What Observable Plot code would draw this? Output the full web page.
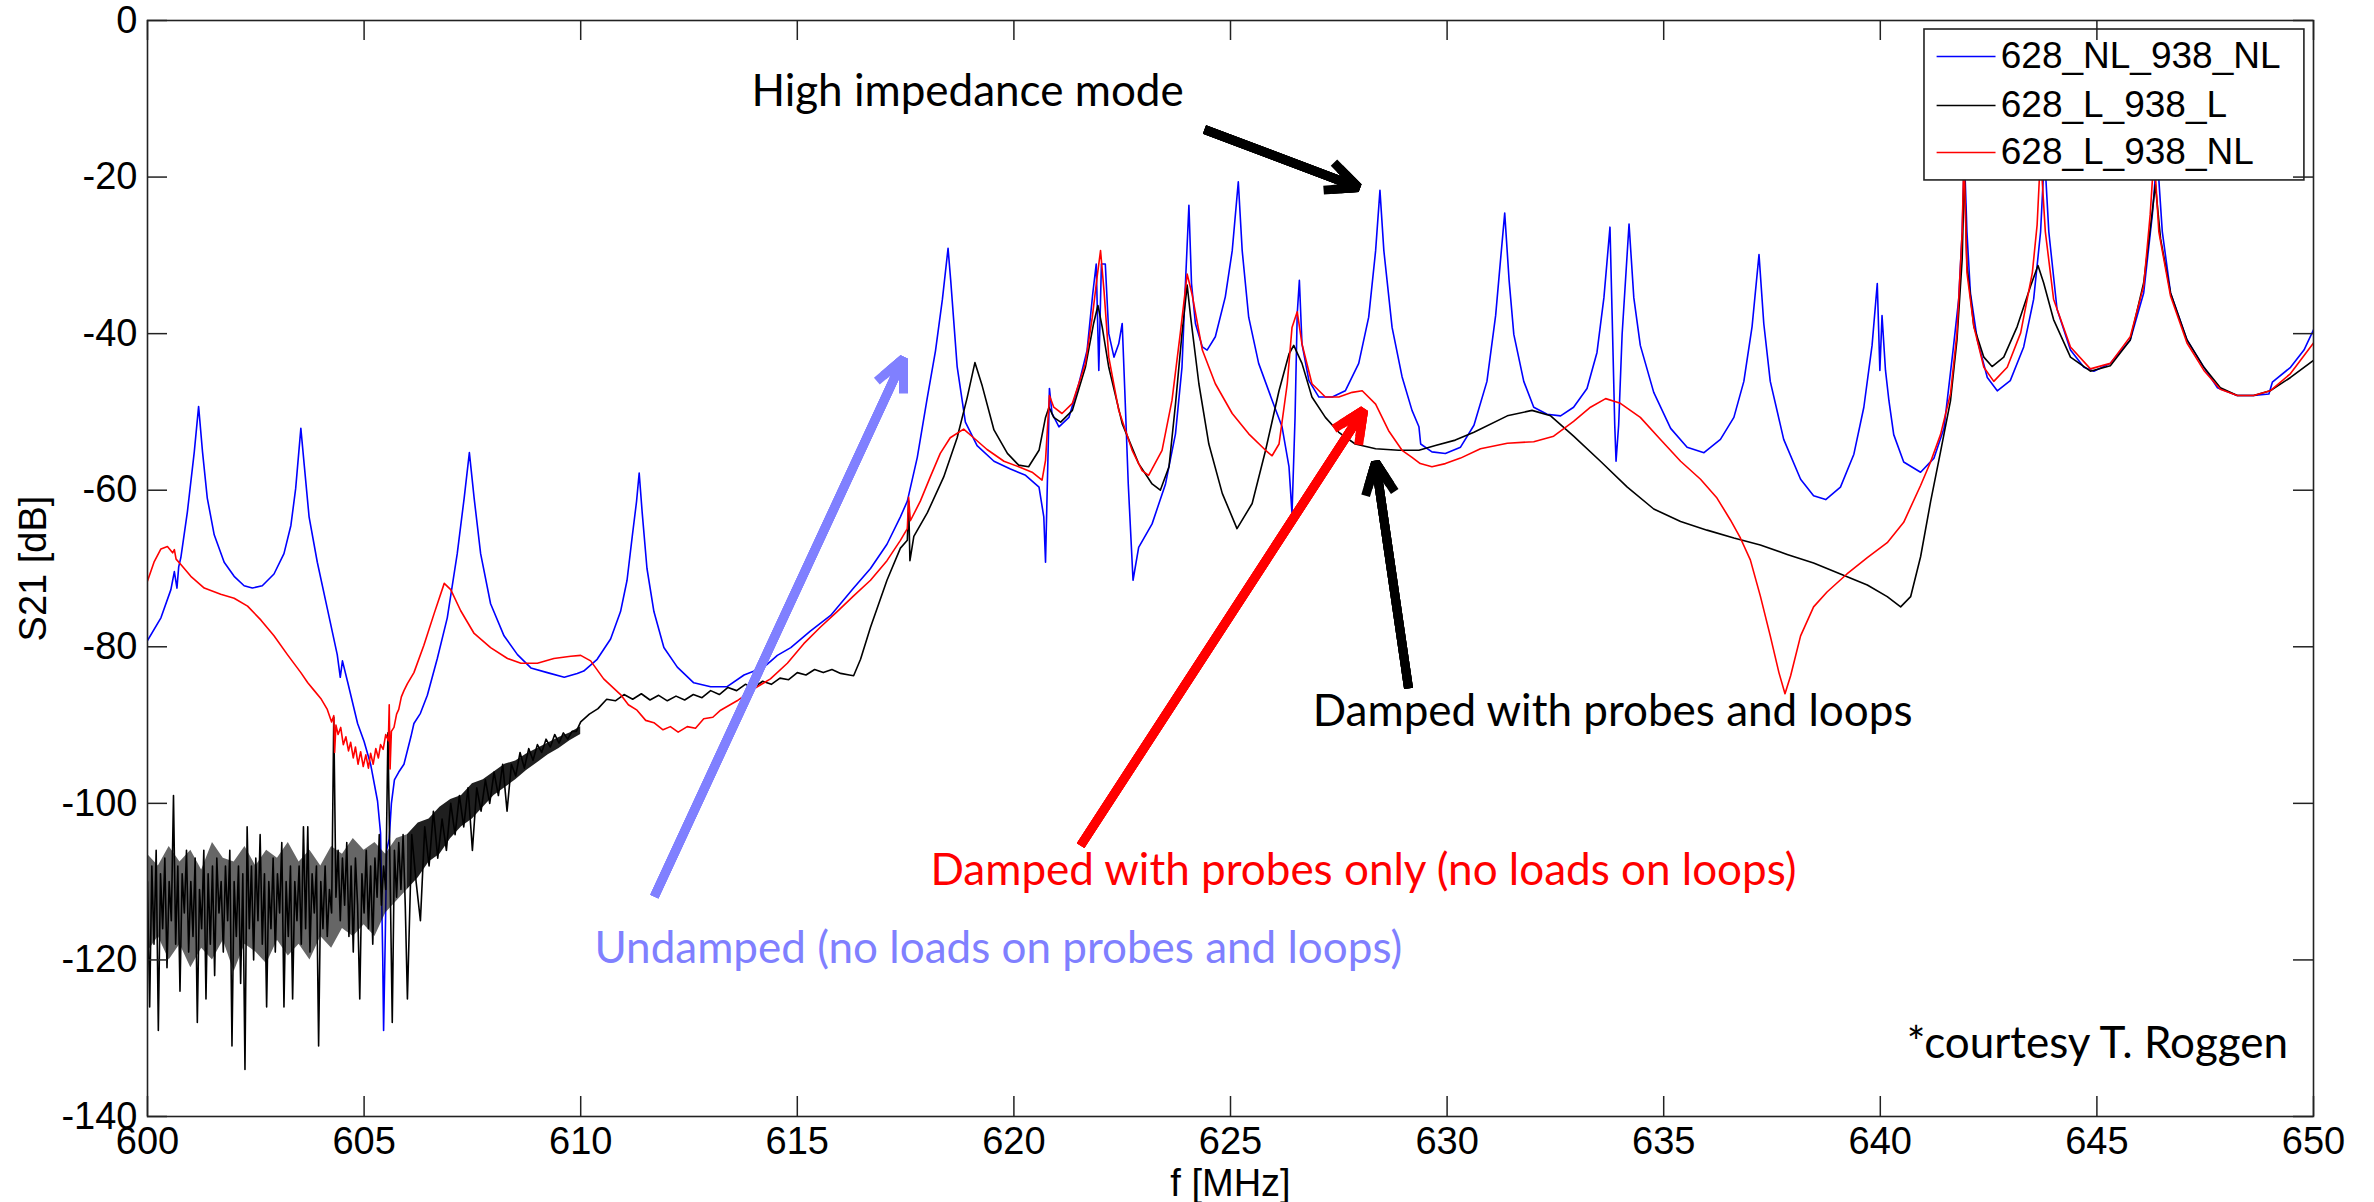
<!DOCTYPE html>
<html><head><meta charset="utf-8">
<script src="https://cdn.jsdelivr.net/npm/d3@7"></script>
<script src="https://cdn.jsdelivr.net/npm/@observablehq/plot@0.6"></script>
<style>html,body{margin:0;padding:0;background:#fff;overflow:hidden}</style>
</head><body><div id="chart"></div>
<script>
// ---- series names / tick labels ----
const seriesNames = ["628_NL_938_NL", "628_L_938_L", "628_L_938_NL"];
const xTicks = [600, 605, 610, 615, 620, 625, 630, 635, 640, 645, 650];
const yTicks = [0, -20, -40, -60, -80, -100, -120, -140];

// ---- 628_NL_938_NL (blue) ----
const blueF = [600.00,600.31,600.54,600.62,600.68,600.72,600.77,600.92,601.08,601.18,601.27,601.38,601.54,601.77,602.00,602.23,602.42,602.65,602.92,603.15,603.31,603.42,603.54,603.62,603.73,603.92,604.15,604.38,604.45,604.50,604.62,604.85,605.00,605.15,605.31,605.38,605.43,605.45,605.49,605.52,605.58,605.63,605.70,605.80,605.92,606.08,606.15,606.30,606.46,606.69,606.92,607.15,607.31,607.43,607.54,607.69,607.92,608.23,608.54,608.85,609.23,609.62,609.92,610.07,610.38,610.69,610.92,611.07,611.19,611.29,611.35,611.42,611.53,611.69,611.92,612.23,612.61,613.00,613.38,613.77,614.23,614.54,614.85,615.30,615.77,616.30,616.69,617.07,617.38,617.54,617.77,618.00,618.19,618.35,618.48,618.54,618.69,618.88,619.15,619.54,619.92,620.27,620.58,620.69,620.73,620.79,620.82,620.88,621.04,621.27,621.50,621.69,621.82,621.90,621.96,622.02,622.11,622.19,622.31,622.42,622.50,622.56,622.64,622.75,622.88,623.19,623.50,623.73,623.88,623.96,624.04,624.10,624.19,624.35,624.46,624.65,624.88,625.04,625.18,625.27,625.42,625.65,625.96,626.19,626.35,626.42,626.49,626.54,626.59,626.65,626.81,627.04,627.35,627.65,627.96,628.19,628.35,628.45,628.54,628.73,628.96,629.19,629.35,629.39,629.65,629.96,630.31,630.62,630.92,631.12,631.23,631.33,631.43,631.54,631.77,632.00,632.31,632.62,632.92,633.23,633.46,633.62,633.76,633.81,633.87,633.90,633.96,634.04,634.20,634.31,634.46,634.77,635.16,635.54,635.93,636.31,636.62,636.85,637.04,637.20,637.31,637.46,637.77,638.16,638.46,638.74,639.08,639.39,639.62,639.81,639.93,639.99,640.04,640.12,640.20,640.31,640.54,640.93,641.24,641.47,641.68,641.81,641.89,641.94,642.00,642.08,642.24,642.47,642.70,643.00,643.31,643.54,643.70,643.79,643.89,644.08,644.39,644.70,644.93,645.31,645.77,646.08,646.28,646.39,646.51,646.70,647.08,647.47,647.78,648.24,648.62,648.97,649.05,649.47,649.78,650.00];
const blueDb = [-79.2,-76.3,-72.7,-70.4,-72.5,-69.8,-68.6,-62.8,-55.1,-49.3,-55.1,-61.0,-65.7,-69.2,-71.0,-72.2,-72.5,-72.2,-70.7,-68.1,-64.5,-59.8,-52.1,-56.9,-63.4,-69.2,-75.1,-81.0,-83.9,-81.8,-84.5,-89.8,-92.1,-95.0,-99.7,-103.8,-119.7,-129.0,-116.7,-106.0,-104.5,-100.0,-97.0,-96.0,-95.0,-91.5,-89.8,-88.5,-86.2,-81.5,-76.3,-68.1,-61.0,-55.2,-61.0,-68.1,-74.5,-78.6,-81.0,-82.7,-83.3,-83.9,-83.4,-83.1,-81.6,-79.0,-75.5,-71.5,-65.9,-61.4,-57.8,-62.9,-70.0,-75.5,-80.1,-82.6,-84.6,-85.1,-85.1,-83.6,-82.6,-81.1,-80.1,-78.0,-76.0,-72.5,-70.0,-66.9,-63.4,-61.4,-55.8,-48.2,-42.2,-35.6,-29.1,-33.1,-44.2,-51.3,-54.3,-56.3,-57.3,-58.1,-59.6,-63.4,-69.2,-54.9,-47.0,-50.2,-51.9,-50.7,-46.4,-42.1,-34.9,-31.1,-44.7,-31.1,-31.1,-40.0,-43.0,-41.3,-38.7,-47.3,-59.2,-71.5,-67.3,-64.3,-59.2,-52.8,-44.3,-33.6,-23.6,-33.6,-38.7,-41.7,-42.1,-40.4,-35.3,-29.4,-20.6,-29.4,-37.9,-43.8,-48.5,-51.9,-57.0,-63.0,-50.7,-37.5,-33.2,-41.3,-46.0,-48.1,-48.1,-47.3,-43.8,-37.9,-29.4,-21.7,-29.4,-39.2,-45.5,-49.8,-51.9,-54.1,-55.1,-55.3,-54.5,-51.7,-46.1,-37.7,-30.8,-24.6,-33.1,-40.1,-46.1,-49.4,-50.3,-50.5,-49.4,-47.0,-42.4,-35.4,-26.4,-37.7,-51.7,-56.3,-51.7,-40.1,-26.0,-35.4,-41.5,-47.5,-52.1,-54.5,-55.2,-53.5,-50.7,-46.1,-39.1,-29.9,-38.7,-46.1,-53.5,-58.6,-60.7,-61.2,-59.6,-55.4,-49.4,-41.5,-33.6,-44.7,-37.7,-44.7,-48.6,-52.9,-56.4,-57.7,-55.9,-52.1,-42.1,-35.6,-27.0,-17.0,-27.0,-34.8,-40.8,-45.6,-47.3,-46.0,-41.7,-35.6,-27.0,-17.0,-27.0,-36.9,-42.1,-44.3,-44.8,-43.8,-40.8,-34.8,-24.8,-17.0,-27.0,-34.8,-40.8,-44.3,-46.9,-47.9,-47.9,-47.7,-46.2,-44.3,-42.1,-39.5];

// ---- 628_L_938_L (black) ----
const blackF = [600.00,600.05,600.10,600.15,600.20,600.25,600.30,600.35,600.40,600.45,600.50,600.55,600.60,600.65,600.70,600.75,600.80,600.85,600.90,600.95,601.00,601.05,601.10,601.15,601.20,601.25,601.30,601.35,601.40,601.45,601.50,601.55,601.60,601.65,601.70,601.75,601.80,601.85,601.90,601.95,602.00,602.05,602.10,602.15,602.20,602.25,602.30,602.35,602.40,602.45,602.50,602.55,602.60,602.65,602.70,602.75,602.80,602.85,602.90,602.95,603.00,603.05,603.10,603.15,603.20,603.25,603.30,603.35,603.40,603.45,603.50,603.55,603.60,603.65,603.70,603.75,603.80,603.85,603.90,603.95,604.00,604.05,604.10,604.15,604.20,604.25,604.30,604.35,604.40,604.45,604.50,604.55,604.60,604.65,604.70,604.75,604.80,604.85,604.90,604.95,605.00,605.05,605.10,605.15,605.20,605.25,605.30,605.35,605.40,605.45,605.50,605.55,605.60,605.65,605.70,605.75,605.80,605.85,605.90,605.95,606.00,606.10,606.20,606.30,606.40,606.50,606.60,606.70,606.80,606.90,607.00,607.10,607.20,607.30,607.40,607.50,607.60,607.70,607.80,607.90,608.00,608.10,608.20,608.30,608.40,608.50,608.60,608.70,608.80,608.90,609.00,609.10,609.20,609.30,609.40,609.50,609.60,609.70,609.80,609.90,610.00,610.20,610.40,610.60,610.80,611.00,611.20,611.40,611.60,611.80,612.00,612.20,612.40,612.60,612.80,613.00,613.20,613.40,613.60,613.80,614.00,614.20,614.40,614.60,614.80,615.00,615.20,615.40,615.60,615.80,616.00,616.20,616.30,616.46,616.69,617.07,617.38,617.54,617.57,617.60,617.69,618.00,618.38,618.69,618.92,619.10,619.27,619.54,619.85,620.11,620.34,620.58,620.73,620.81,620.92,621.08,621.35,621.65,621.84,621.94,622.04,622.19,622.50,622.88,623.19,623.38,623.58,623.73,623.88,624.00,624.08,624.27,624.50,624.81,625.15,625.50,625.81,626.12,626.35,626.46,626.65,626.88,627.19,627.50,627.88,628.35,628.88,629.35,629.73,630.19,630.62,631.39,631.96,632.39,632.92,633.54,634.16,634.77,635.39,636.00,636.62,637.23,637.85,638.46,639.08,639.70,640.16,640.47,640.70,640.93,641.16,641.39,641.62,641.77,641.89,641.94,642.00,642.16,642.39,642.58,642.85,643.16,643.47,643.64,643.77,644.00,644.39,644.85,645.31,645.77,646.08,646.27,646.35,646.47,646.70,647.08,647.47,647.85,648.24,648.62,649.00,649.47,650.00];
const blackDb = [-110,-126,-108,-118,-106,-129,-109,-116,-107,-121,-110,-115,-99,-118,-108,-124,-109,-114,-106,-119,-110,-117,-107,-128,-111,-116,-106,-125,-109,-118,-108,-122,-107,-114,-110,-119,-108,-115,-106,-131,-110,-117,-108,-123,-109,-134,-103,-116,-108,-120,-107,-115,-104,-118,-109,-126,-110,-116,-107,-119,-109,-114,-105,-126,-110,-117,-108,-125,-110,-115,-108,-118,-103,-116,-103,-119,-109,-114,-108,-131,-110,-116,-108,-117,-111,-114,-89,-112,-106,-115,-107,-113,-105,-117,-108,-119,-107,-113,-125,-109,-114,-106,-116,-108,-118,-107,-112,-104,-113,-108,-111,-91,-109,-128,-106,-112,-105,-111,-104,-113,-125,-104,-110,-115,-103,-108,-101,-107,-102,-106,-100,-104,-99,-103,-98,-106,-98,-101,-97,-100,-96,-99,-95,-101,-95,-96.5,-93.5,-95.5,-93,-94.5,-92.5,-93.5,-91.8,-92.8,-91.2,-92.3,-91,-91.8,-90.8,-90.8,-89.6,-88.6,-87.9,-86.7,-86.9,-86.1,-86.7,-86.0,-86.8,-86.2,-86.9,-86.3,-86.8,-86.1,-86.5,-85.6,-86.1,-85.2,-85.6,-84.8,-85.2,-84.4,-84.8,-84.0,-84.2,-83.3,-83.6,-82.9,-83.3,-82.9,-83.4,-83.6,-83.7,-81.6,-77.5,-71.5,-67.4,-66.4,-61.4,-69.0,-65.9,-62.9,-58.3,-53.3,-48.2,-43.7,-46.7,-52.3,-55.3,-56.8,-57.0,-54.9,-50.7,-49.4,-50.7,-51.3,-49.8,-44.3,-38.7,-36.4,-39.2,-44.3,-51.5,-56.6,-59.2,-60.0,-57.0,-49.0,-40.0,-33.8,-37.9,-46.4,-54.1,-60.4,-64.9,-61.7,-54.9,-47.3,-42.6,-41.5,-43.8,-48.1,-50.7,-52.6,-54.1,-54.7,-54.9,-54.9,-54.3,-53.6,-52.6,-50.5,-49.8,-50.5,-53.1,-56.3,-59.6,-62.4,-64.0,-65.1,-66.1,-67.0,-68.2,-69.3,-70.7,-72.1,-73.6,-74.9,-73.6,-68.5,-61.5,-55.1,-48.6,-40.8,-30.5,-19.0,-31.3,-39.1,-43.0,-44.2,-43.0,-39.1,-33.9,-31.3,-33.5,-38.2,-43.0,-44.8,-44.1,-40.8,-33.5,-24.8,-21.0,-27.9,-34.8,-40.8,-44.3,-46.9,-47.9,-47.9,-47.3,-45.6,-43.4];
// dense core of the black noise (upper / lower edge of the dark band)
const blackBandF = [600.00,600.25,600.50,600.75,601.00,601.25,601.50,601.75,602.00,602.25,602.50,602.75,603.00,603.25,603.50,603.75,604.00,604.25,604.50,604.75,605.00,605.25,605.50,605.75,606.00,606.25,606.50,606.75,607.00,607.25,607.50,607.75,608.00,608.25,608.50,608.75,609.00,609.25,609.50,609.75,610.00];
const blackBandHi = [-106.5,-108,-105.5,-107.5,-106,-108.5,-105,-107,-107.5,-105.5,-108,-106,-107,-105,-107.5,-106,-108,-105.5,-106.5,-104.5,-106,-105,-106.5,-104.5,-104,-102.5,-102,-100.5,-99.5,-99,-97.5,-97,-96,-95,-94.6,-93.7,-93,-92.3,-91.6,-91,-90.2];
const blackBandLo = [-119,-117,-120,-118,-121,-118.5,-120,-117.5,-121.5,-118,-119,-120.5,-117.5,-119.5,-118,-120,-117,-118.5,-116,-117,-115.5,-117,-114,-112.5,-111,-109.5,-107.5,-106.5,-104.5,-103,-102,-100.5,-99,-98,-97,-95.8,-94.8,-93.8,-93,-92,-91.2];

// ---- 628_L_938_NL (red) ----
const redF = [600.00,600.15,600.31,600.46,600.58,600.62,600.66,600.77,601.00,601.31,601.69,602.00,602.31,602.62,602.92,603.23,603.54,603.70,603.85,604.00,604.15,604.25,604.30,604.32,604.35,604.40,604.46,604.52,604.58,604.64,604.69,604.75,604.80,604.86,604.92,604.98,605.04,605.10,605.15,605.21,605.27,605.33,605.38,605.44,605.50,605.56,605.58,605.60,605.63,605.69,605.75,605.80,605.86,605.92,606.00,606.15,606.38,606.62,606.85,607.00,607.23,607.54,607.92,608.31,608.62,609.00,609.38,609.77,610.00,610.23,610.53,610.92,611.10,611.30,611.50,611.69,611.90,612.07,612.25,612.46,612.65,612.84,613.05,613.23,613.61,613.99,614.38,614.77,615.15,615.53,615.92,616.30,616.69,617.07,617.38,617.54,617.57,617.61,617.84,618.07,618.30,618.53,618.84,619.07,619.38,619.77,620.11,620.42,620.65,620.73,620.82,620.92,621.11,621.35,621.65,621.81,621.92,622.00,622.08,622.19,622.42,622.73,622.96,623.11,623.42,623.65,623.84,624.00,624.11,624.35,624.65,625.04,625.42,625.81,625.96,626.12,626.31,626.42,626.54,626.65,626.88,627.19,627.50,627.81,628.04,628.35,628.65,628.96,629.19,629.38,629.65,629.96,630.31,630.77,631.39,632.00,632.46,632.92,633.31,633.66,634.00,634.46,634.92,635.39,635.85,636.23,636.54,636.77,637.00,637.23,637.46,637.66,637.80,637.93,638.16,638.46,638.77,639.23,639.70,640.16,640.54,640.93,641.16,641.39,641.62,641.77,641.89,641.93,642.00,642.16,642.39,642.62,642.93,643.24,643.51,643.62,643.70,643.81,644.00,644.39,644.85,645.31,645.77,646.08,646.23,646.32,646.43,646.70,647.08,647.47,647.85,648.24,648.62,649.00,649.47,650.00];
const redDb = [-71.6,-69.2,-67.5,-67.2,-68.0,-67.6,-68.8,-69.5,-71.0,-72.5,-73.3,-73.8,-74.8,-76.6,-78.6,-81.0,-83.3,-84.6,-85.6,-86.6,-88.0,-89.6,-88.8,-93.5,-90.0,-91.2,-90.3,-92.5,-91.5,-93.3,-92.2,-94.2,-92.8,-95.0,-93.4,-95.3,-93.8,-95.5,-93.6,-95.0,-93.0,-94.2,-92.5,-93.1,-91.2,-92.0,-87.4,-95.6,-90.8,-90.3,-88.6,-88.0,-86.4,-85.6,-84.7,-83.3,-79.8,-75.7,-71.9,-72.7,-75.4,-78.3,-80.1,-81.5,-82.1,-82.1,-81.5,-81.2,-81.1,-81.8,-84.1,-86.1,-87.4,-88.1,-89.4,-89.7,-90.6,-90.2,-90.9,-90.2,-90.4,-89.2,-89.0,-88.1,-86.9,-85.4,-84.1,-82.1,-79.6,-77.5,-75.5,-73.5,-71.5,-69.0,-66.4,-64.9,-60.9,-63.9,-61.4,-58.3,-55.3,-53.3,-52.2,-53.3,-54.8,-56.3,-57.0,-57.7,-58.7,-56.2,-47.9,-49.4,-50.2,-48.9,-43.8,-37.9,-32.8,-29.4,-34.5,-43.0,-49.8,-54.9,-57.5,-58.1,-54.9,-48.5,-40.0,-32.4,-34.9,-42.1,-46.4,-50.2,-52.8,-54.9,-55.6,-54.1,-46.4,-39.2,-37.2,-41.3,-46.4,-48.1,-48.1,-47.5,-47.3,-49.0,-52.4,-54.9,-55.8,-56.6,-57.0,-56.6,-55.9,-54.7,-54.0,-53.8,-53.1,-51.2,-49.4,-48.3,-48.9,-50.7,-53.5,-56.3,-58.6,-61.0,-63.8,-66.1,-68.9,-73.5,-78.6,-83.3,-86.0,-83.7,-78.6,-74.9,-73.0,-70.7,-68.6,-66.7,-64.1,-59.4,-56.4,-52.9,-47.7,-39.9,-27.0,-17.0,-32.2,-39.1,-44.3,-46.1,-44.3,-39.9,-32.2,-26.1,-17.0,-27.0,-35.6,-41.7,-44.5,-43.8,-40.4,-33.9,-24.8,-17.0,-27.0,-35.2,-41.2,-44.7,-47.1,-47.9,-47.9,-47.3,-45.1,-41.2];

// ---- annotations (positions in data units) ----
const annoText = ["High impedance mode", "Damped with probes and loops", "Damped with probes only (no loads on loops)", "Undamped (no loads on probes and loops)", "*courtesy T. Roggen"];
const annoF = [618.93, 633.82, 628.07, 619.64, 645.01];
const annoDb = [-9.07, -88.3, -108.6, -118.6, -130.7];
const annoColor = ["#000000", "#000000", "#ff0000", "#8080ff", "#000000"];

const arrowF1 = [624.40, 611.70, 621.54, 629.11];
const arrowDb1 = [-13.92, -111.9, -105.4, -85.3];
const arrowF2 = [627.95, 617.45, 628.07, 628.35];
const arrowDb2 = [-21.33, -43.2, -49.8, -56.45];
const arrowColor = ["#000000", "#8080ff", "#ff0000", "#000000"];

// ---- legend placement (data units) ----
const legendBox = {x1: 641.02, x2: 649.79, y1: -20.43, y2: -1.15};
const legendRowDb = [-4.6, -10.86, -16.86];
const legendLineF = [641.30, 642.66];
const legendTextF = 642.78;
const seriesColor = ["#0000ff", "#000000", "#ff0000"];

// ---- build rows ----
const rows = (F, D) => F.map((f, i) => ({f, db: D[i]}));
const blueRows = rows(blueF, blueDb), blackRows = rows(blackF, blackDb), redRows = rows(redF, redDb);
const bandRows = blackBandF.map((f, i) => ({f, hi: blackBandHi[i], lo: blackBandLo[i]}));
const annos = annoText.map((t, i) => ({t, f: annoF[i], db: annoDb[i], c: annoColor[i]}));
const arrows = arrowF1.map((f, i) => ({x1: f, y1: arrowDb1[i], x2: arrowF2[i], y2: arrowDb2[i], c: arrowColor[i]}));
const legendRows = seriesNames.map((n, i) => ({n, y: legendRowDb[i], c: seriesColor[i]}));

const W = 2374, H = 1202, mL = 147, mR = 61, mT = 20, mB = 86;
const pw = W - mL - mR, ph = H - mT - mB;
const tickFont = "Liberation Sans, Arial, sans-serif";
const annoFont = "Lato, 'Open Sans', sans-serif";

const arrowLayers = [5.8, 4.4, 3.0, 1.6].map(hl =>
  Plot.arrow(arrows, {x1: "x1", y1: "y1", x2: "x2", y2: "y2", stroke: "c", strokeWidth: 9, headLength: hl, headAngle: 50, strokeLinecap: "butt"}));

const chart = Plot.plot({
  width: W, height: H,
  marginLeft: mL, marginRight: mR, marginTop: mT, marginBottom: mB,
  x: {domain: [600, 650], axis: null},
  y: {domain: [-140, 0], axis: null},
  style: {background: "white", overflow: "visible"},
  marks: [
    Plot.line(blueRows, {x: "f", y: "db", stroke: "#0000ff", strokeWidth: 1.6, clip: true}),
    Plot.areaY(bandRows, {filter: d => d.f <= 606, x: "f", y1: "lo", y2: "hi", fill: "#000000", fillOpacity: 0.6, curve: "linear"}),
    Plot.areaY(bandRows, {filter: d => d.f >= 606, x: "f", y1: "lo", y2: "hi", fill: "#000000", fillOpacity: 0.88, curve: "linear"}),
    Plot.line(blackRows, {x: "f", y: "db", stroke: "#000000", strokeWidth: 1.6, clip: true}),
    Plot.line(redRows, {x: "f", y: "db", stroke: "#ff0000", strokeWidth: 1.6, clip: true}),
    // legend
    Plot.rect([legendBox], {x1: "x1", x2: "x2", y1: "y1", y2: "y2", fill: "white", stroke: "#222", strokeWidth: 1.6}),
    Plot.link(legendRows, {x1: () => legendLineF[0], x2: () => legendLineF[1], y1: "y", y2: "y", stroke: "c", strokeWidth: 1.6}),
    Plot.text(legendRows, {x: () => legendTextF, y: "y", text: "n", textAnchor: "start", lineAnchor: "middle", fontSize: 37, fontFamily: tickFont, fill: "#000"}),
    // inward ticks
    Plot.ruleX(xTicks, {x: d => d, insetTop: ph - 20, stroke: "#222", strokeWidth: 1.5}),
    Plot.ruleX(xTicks, {x: d => d, insetBottom: ph - 20, stroke: "#222", strokeWidth: 1.5}),
    Plot.ruleY(yTicks, {y: d => d, insetRight: pw - 20, stroke: "#222", strokeWidth: 1.5}),
    Plot.ruleY(yTicks, {y: d => d, insetLeft: pw - 20, stroke: "#222", strokeWidth: 1.5}),
    Plot.frame({stroke: "#222", strokeWidth: 1.6}),
    // tick labels
    Plot.text(xTicks, {x: d => d, frameAnchor: "bottom", text: d => String(d), textAnchor: "middle", lineAnchor: "top", dy: 11, fontSize: 38, fontFamily: tickFont, fill: "#000"}),
    Plot.text(yTicks, {y: d => d, frameAnchor: "left", text: d => String(d), textAnchor: "end", lineAnchor: "middle", dx: -10, fontSize: 38, fontFamily: tickFont, fill: "#000"}),
    Plot.text(["f [MHz]"], {frameAnchor: "bottom", text: d => d, textAnchor: "middle", lineAnchor: "bottom", dy: 79, fontSize: 38, fontFamily: tickFont, fill: "#000"}),
    Plot.text(["S21 [dB]"], {frameAnchor: "left", text: d => d, rotate: -90, textAnchor: "middle", lineAnchor: "middle", dx: -114, fontSize: 38, fontFamily: tickFont, fill: "#000"}),
    // arrows & annotations
    ...arrowLayers,
    Plot.text(annos, {x: "f", y: "db", text: "t", fill: "c", textAnchor: "middle", lineAnchor: "middle", fontSize: 44, fontFamily: annoFont})
  ]
});
document.getElementById("chart").append(chart);
</script></body></html>
